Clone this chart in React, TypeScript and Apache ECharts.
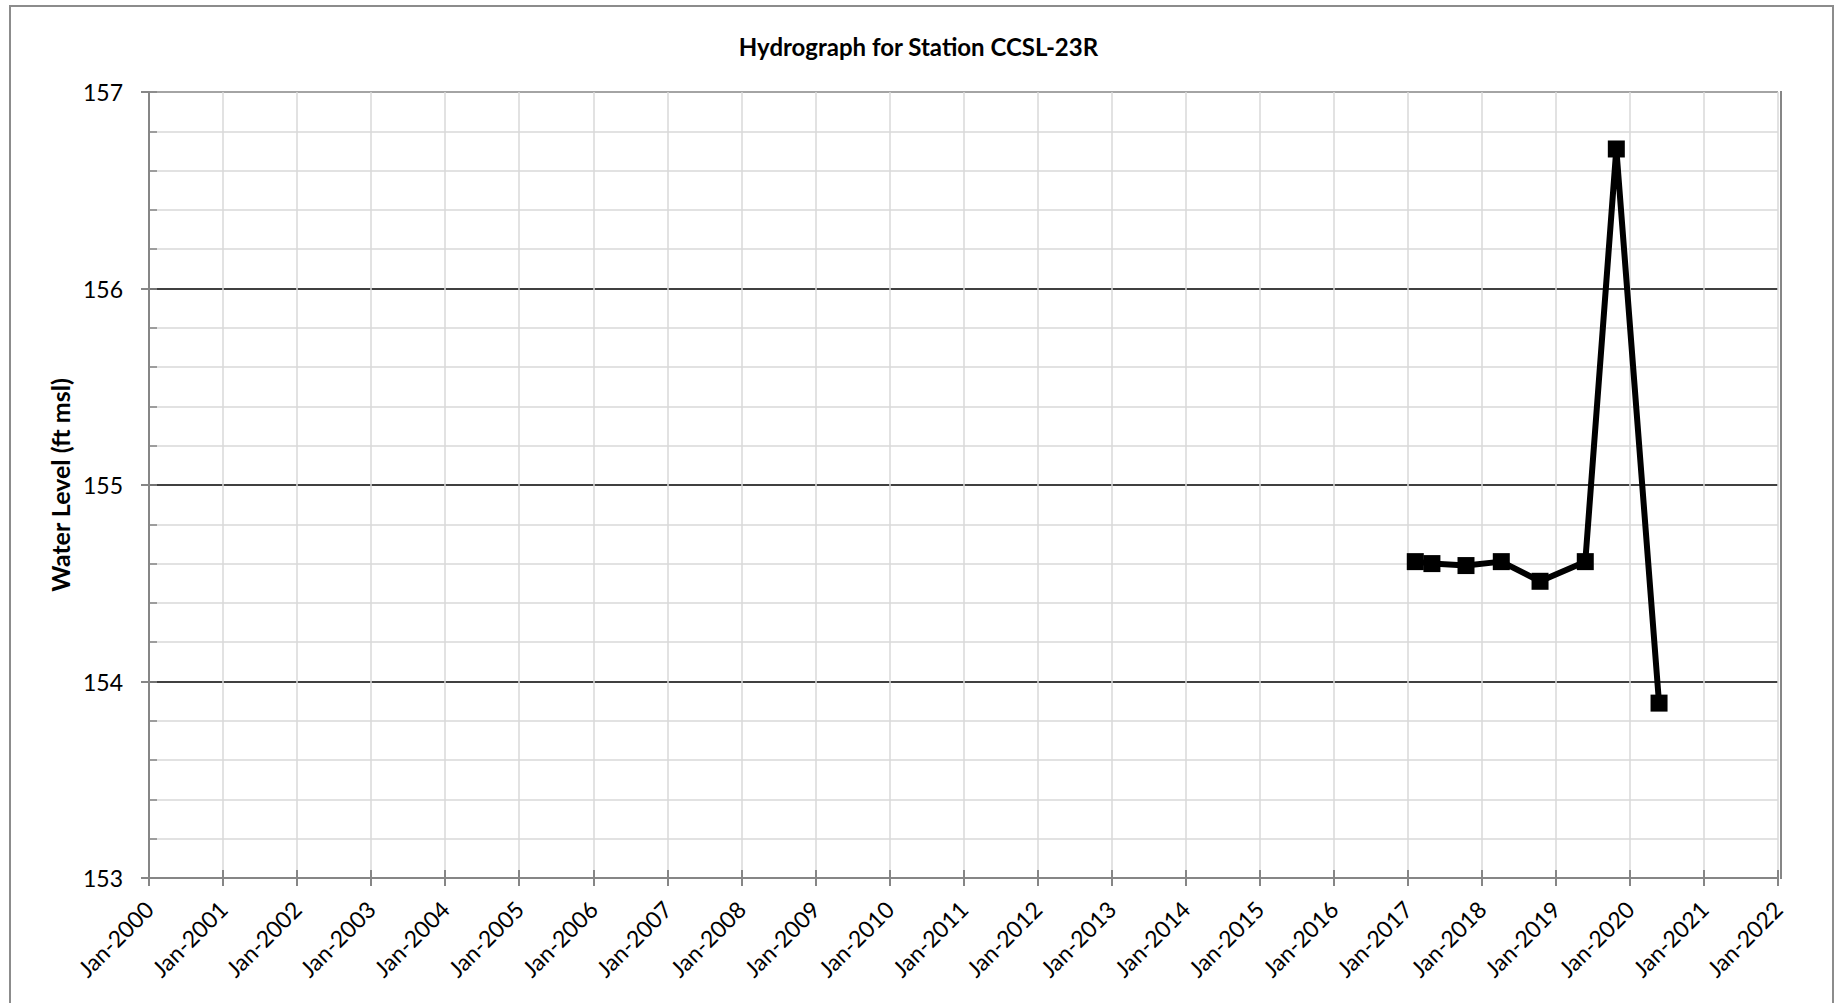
import React, { useEffect, useRef } from "react";
import * as echarts from "echarts";

// ---- Data ----
const chartTitle = "Hydrograph for Station CCSL-23R";
const yAxisTitle = "Water Level (ft msl)";
const sampleDates = [
  "2017-02-07",
  "2017-04-30",
  "2017-10-15",
  "2018-04-07",
  "2018-10-15",
  "2019-05-26",
  "2019-10-26",
  "2020-05-24",
];
const waterLevels = [154.61, 154.6, 154.59, 154.61, 154.51, 154.61, 156.71, 153.89];
const xStartYear = 2000;
const xEndYear = 2022;
const yMin = 153;
const yMax = 157;

const FONT = "Lato, 'Open Sans', sans-serif";
const AXIS_GRAY = "#868686";
const GRID_GRAY = "#d9d9d9";

function toDecimalYear(iso: string): number {
  const [y, m, d] = iso.split("-").map(Number);
  const start = Date.UTC(y, 0, 1);
  const end = Date.UTC(y + 1, 0, 1);
  const t = Date.UTC(y, m - 1, d);
  return y + (t - start) / (end - start);
}

export default function App() {
  const ref = useRef<HTMLDivElement>(null);

  useEffect(() => {
    if (!ref.current) return;
    const chart = echarts.init(ref.current, undefined, { renderer: "svg" });
    const seriesData = sampleDates.map((d, i) => [toDecimalYear(d), waterLevels[i]]);

    chart.setOption({
      animation: false,
      backgroundColor: "#ffffff",
      title: {
        text: chartTitle,
        left: "center",
        top: 29,
        textStyle: { fontFamily: FONT, fontSize: 24, fontWeight: "bold", color: "#000" },
      },
      grid: { left: 149, right: 59, top: 92, bottom: 125, containLabel: false },
      xAxis: [
        {
          type: "value",
          min: xStartYear,
          max: xEndYear,
          interval: 1,
          axisLine: { show: true, lineStyle: { color: AXIS_GRAY, width: 2 } },
          axisTick: { show: true, length: 8, lineStyle: { color: AXIS_GRAY, width: 2 } },
          axisLabel: {
            rotate: 45,
            margin: 27,
            fontFamily: FONT,
            fontSize: 23,
            color: "#000",
            formatter: (v: number) => "Jan-" + Math.round(v),
          },
          splitLine: { show: true, lineStyle: { color: GRID_GRAY, width: 1.5 } },
        },
        {
          type: "value",
          position: "bottom",
          offset: 0,
          min: xStartYear,
          max: xEndYear,
          interval: 1,
          axisLine: { show: false },
          axisTick: { show: true, inside: true, length: 8, lineStyle: { color: AXIS_GRAY, width: 2 } },
          axisLabel: { show: false },
          splitLine: { show: false },
        },
      ],
      yAxis: [
        {
          type: "value",
          min: yMin,
          max: yMax,
          interval: 1,
          name: yAxisTitle,
          nameLocation: "middle",
          nameGap: 67,
          nameTextStyle: { fontFamily: FONT, fontSize: 25, fontWeight: "bold", color: "#000" },
          axisLine: { show: true, lineStyle: { color: AXIS_GRAY, width: 2 } },
          axisTick: { show: true, length: 8, lineStyle: { color: AXIS_GRAY, width: 2 } },
          axisLabel: { margin: 26, fontFamily: FONT, fontSize: 23, color: "#000" },
          splitLine: {
            show: true,
            lineStyle: { color: [AXIS_GRAY, "#000", "#000", "#000", AXIS_GRAY], width: 1.5 },
          },
          minorTick: { show: false, splitNumber: 5 },
          minorSplitLine: { show: true, lineStyle: { color: GRID_GRAY, width: 1.5 } },
        },
        {
          type: "value",
          position: "left",
          offset: 0,
          min: yMin,
          max: yMax,
          interval: 0.2,
          axisLine: { show: false },
          axisTick: { show: true, inside: true, length: 8, lineStyle: { color: AXIS_GRAY, width: 1.5 } },
          axisLabel: { show: false },
          splitLine: { show: false },
        },
      ],
      series: [
        {
          type: "line",
          xAxisIndex: 0,
          yAxisIndex: 0,
          data: seriesData,
          symbol: "rect",
          symbolSize: 17,
          showSymbol: true,
          lineStyle: { color: "#000", width: 6 },
          itemStyle: { color: "#000" },
          z: 10,
        },
      ],
      graphic: [
        {
          type: "rect",
          z: 100,
          silent: true,
          shape: { x: 10, y: 6, width: 1823, height: 1010 },
          style: { fill: "none", stroke: "#8c8c8c", lineWidth: 2 },
        },
        {
          type: "line",
          z: 100,
          silent: true,
          shape: { x1: 1781, y1: 91, x2: 1781, y2: 879 },
          style: { stroke: AXIS_GRAY, lineWidth: 2 },
        },
      ],
    });

    return () => chart.dispose();
  }, []);

  return (
    <div
      ref={ref}
      style={{ position: "fixed", left: 0, top: 0, width: 1837, height: 1003, background: "#fff" }}
    />
  );
}
